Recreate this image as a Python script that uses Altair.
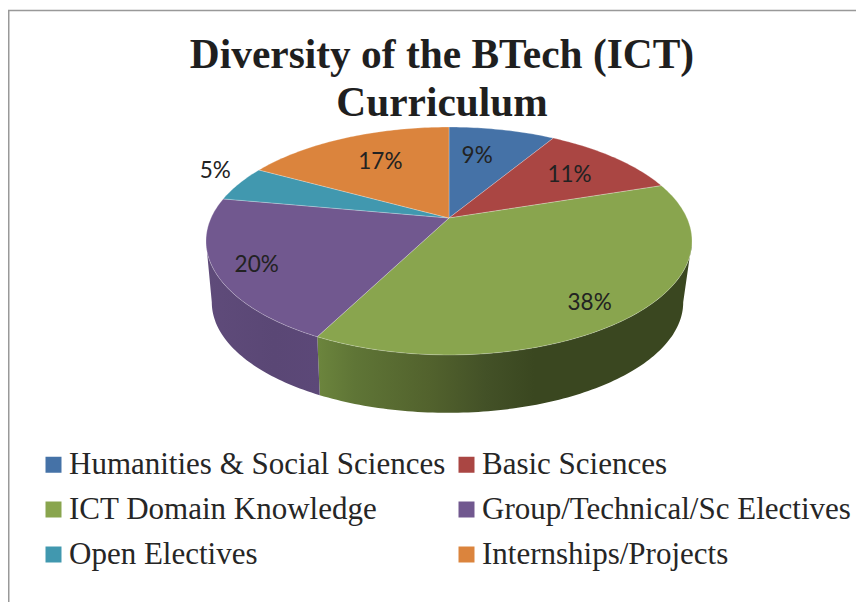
import math
import altair as alt
import pandas as pd

categories = ["Humanities & Social Sciences", "Basic Sciences", "ICT Domain Knowledge",
              "Group/Technical/Sc Electives", "Open Electives", "Internships/Projects"]
values = [8.6, 11.3, 37.6, 20.4, 5.1, 17.0]
colors = ["#4572a7", "#aa4643", "#89a54e", "#71588f", "#4198af", "#db843d"]
title_lines = ["Diversity of the BTech (ICT)", "Curriculum"]

# Tilted-disc projection of the pie (perspective view from the front)
CX, CY, RX, RY, K = 449, 218, 238, 109.3, 0.2018
DEPTH_Y, SHRINK, LOW_SHIFT = 62, 0.97, -1.5
# Fractions of the turn where the disc's outline is widest, right and left
SIL_RIGHT = 0.25 + math.asin(K) / (2 * math.pi)
SIL_LEFT = 1 - SIL_RIGHT


def project(frac, r=1.0):
    a = 2 * math.pi * frac
    u, v = r * math.sin(a), -r * math.cos(a)
    w = 1 - K * v
    return CX + RX * u / w, CY + RY * v / w


def lower(x, y):
    return CX + LOW_SHIFT + SHRINK * (x - CX), CY + DEPTH_Y + SHRINK * (y - CY)


def arc_fracs(f0, f1):
    n = max(2, int((f1 - f0) * 360))
    return [f0 + (f1 - f0) * i / n for i in range(n + 1)]


total = sum(values)
starts, ends, acc = [], [], 0
for v in values:
    starts.append(acc / total)
    acc += v
    ends.append(acc / total)

top_rows = []
for cat, f0, f1 in zip(categories, starts, ends):
    pts = [(CX, CY)] + [project(f) for f in arc_fracs(f0, f1)]
    for i, (x, y) in enumerate(pts):
        top_rows.append({"cat": cat, "x": x, "y": y, "o": i})
top_df = pd.DataFrame(top_rows)


def wall_df(f0, f1):
    upper = [project(f) for f in arc_fracs(f0, f1)]
    low = [lower(*p) for p in reversed(upper)]
    return pd.DataFrame([{"x": x, "y": y, "o": i} for i, (x, y) in enumerate(upper + low)])


x_enc = alt.X("x:Q", axis=None, scale=alt.Scale(domain=[8, 856], range=[0, 848], nice=False, zero=False))
y_enc = alt.Y("y:Q", axis=None, scale=alt.Scale(domain=[8, 602], range=[0, 594], nice=False, zero=False))


def grad(stops):
    return alt.LinearGradient(
        gradient="linear", x1=0, y1=0, x2=1, y2=0,
        stops=[alt.GradientStop(offset=o, color=c) for o, c in stops],
    )


green_wall = alt.Chart(wall_df(SIL_RIGHT, ends[2])).mark_line(
    interpolate="linear-closed", strokeWidth=0,
    fill=grad([(0, "#6c853d"), (0.1, "#5f7536"), (0.3, "#52622d"), (0.45, "#435127"), (0.58, "#3a4720"), (1, "#3a4720")]),
).encode(x=x_enc, y=y_enc, order="o:Q")

purple_wall = alt.Chart(wall_df(ends[2], SIL_LEFT)).mark_line(
    interpolate="linear-closed", strokeWidth=0,
    fill=grad([(0, "#5f4b7a"), (0.6, "#5a4775"), (1, "#5c4878")]),
).encode(x=x_enc, y=y_enc, order="o:Q")

top = alt.Chart(top_df).mark_line(
    interpolate="linear-closed", stroke="#ffffff", strokeOpacity=0.25, strokeWidth=1,
).encode(
    x=x_enc, y=y_enc, order="o:Q",
    fill=alt.Fill(
        "cat:N",
        scale=alt.Scale(domain=categories, range=colors),
        legend=alt.Legend(
            orient="none", legendX=30, legendY=441, columns=2, direction="horizontal", title=None,
            symbolType="square", symbolSize=256, symbolStrokeWidth=0,
            labelFont="Liberation Serif", labelFontSize=31, labelColor="#262626",
            labelLimit=500, labelOffset=0, rowPadding=13, columnPadding=5,
            gridAlign="each",
        ),
    ),
)

label_nudges = [(-11, 3), (1, 1), (19, 20), (-33, 11), (-84, -22), (7, 3)]
label_layers = []
for v, f0, f1, (dx, dy) in zip(values, starts, ends, label_nudges):
    lx, ly = project((f0 + f1) / 2, 0.7)
    label_layers.append(
        alt.Chart(pd.DataFrame([{"x": lx, "y": ly, "t": f"{round(v)}%"}])).mark_text(
            font="Lato", fontSize=22.5, color="#222222", dx=dx, dy=dy,
        ).encode(x=x_enc, y=y_enc, text="t:N")
    )

frame_color = "#999999"
left_rule = alt.Chart(pd.DataFrame({"a": [0]})).mark_rule(color=frame_color, strokeWidth=2).encode(
    x=alt.value(0.5), y=alt.value(2), y2=alt.value(594))
top_rule = alt.Chart(pd.DataFrame({"a": [0]})).mark_rule(color=frame_color, strokeWidth=1.5).encode(
    y=alt.value(2.5), x=alt.value(0), x2=alt.value(848))

chart = alt.layer(left_rule, top_rule, green_wall, purple_wall, top, *label_layers).properties(
    width=848, height=594, padding=0,
    autosize=alt.AutoSizeParams(type="none"),
    title=alt.TitleParams(
        text=title_lines, font="Liberation Serif", fontWeight="bold", fontSize=41.4,
        lineHeight=48, color="#1f1f1f", anchor="middle", frame="group",
        dx=10, dy=116, offset=0, baseline="top",
    ),
).configure_view(stroke=None)

chart.save("out.html", embed_options={"renderer": "svg", "actions": False})
